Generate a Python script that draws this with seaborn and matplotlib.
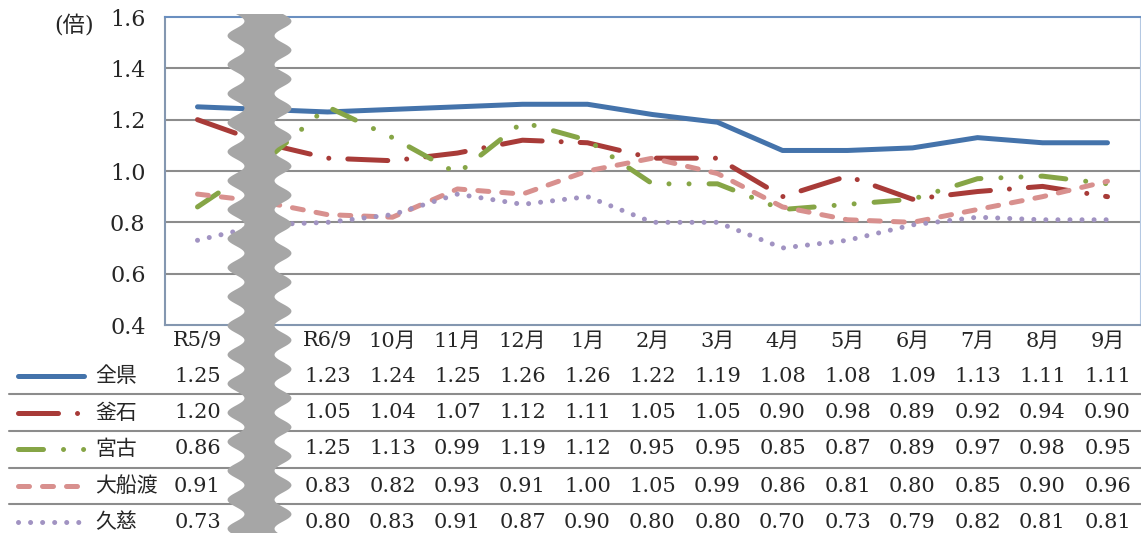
import numpy as np
import pandas as pd
import matplotlib
matplotlib.use('Agg')
import matplotlib.pyplot as plt
import matplotlib.transforms as mtransforms
import seaborn as sns

# categories (index 1 is hidden behind the break mark)
months = ['R5/9', '', 'R6/9', '10月', '11月', '12月', '1月', '2月', '3月',
          '4月', '5月', '6月', '7月', '8月', '9月']
series = ['全県', '釜石', '宮古', '大船渡', '久慈']
zenken = [1.25, 1.24, 1.23, 1.24, 1.25, 1.26, 1.26, 1.22, 1.19, 1.08, 1.08, 1.09, 1.13, 1.11, 1.11]
kamaishi = [1.20, 1.11, 1.05, 1.04, 1.07, 1.12, 1.11, 1.05, 1.05, 0.90, 0.98, 0.89, 0.92, 0.94, 0.90]
miyako = [0.86, 1.03, 1.25, 1.13, 0.99, 1.19, 1.12, 0.95, 0.95, 0.85, 0.87, 0.89, 0.97, 0.98, 0.95]
ofunato = [0.91, 0.88, 0.83, 0.82, 0.93, 0.91, 1.00, 1.05, 0.99, 0.86, 0.81, 0.80, 0.85, 0.90, 0.96]
kuji = [0.73, 0.79, 0.80, 0.83, 0.91, 0.87, 0.90, 0.80, 0.80, 0.70, 0.73, 0.79, 0.82, 0.81, 0.81]
hidden = [1]

colors = {'全県': '#4473ab', '釜石': '#a83b38', '宮古': '#86a546',
          '大船渡': '#d8908e', '久慈': '#a193c2'}
dashes = {'全県': '', '釜石': (8, 3.8, 0.01, 3.8),
          '宮古': (5, 4, 0.01, 4, 0.01, 4),
          '大船渡': (2.2, 2.6), '久慈': (0.01, 2.4)}

values = dict(zip(series, [zenken, kamaishi, miyako, ofunato, kuji]))
df = pd.DataFrame([(i, v, s) for s in series for i, v in enumerate(values[s])],
                  columns=['idx', 'value', 'series'])

sns.set_style('white')
plt.rcParams['font.family'] = ['DejaVu Serif', 'Noto Sans CJK JP']

W, H = 1141, 533
fig = plt.figure(figsize=(W / 100, H / 100), dpi=100)
ax = fig.add_axes([165 / W, 1 - 325 / H, 975 / W, 308 / H])

sns.lineplot(data=df, x='idx', y='value', hue='series', style='series',
             palette=colors, dashes=dashes, linewidth=3.6, legend=False,
             sort=False, ax=ax)
for ln in ax.get_lines():
    ln.set_dash_capstyle('round')
    ln.set_solid_capstyle('round')
    ln.set_solid_joinstyle('round')

ax.set_xlim(-0.5, len(months) - 0.5)
ax.set_ylim(0.4, 1.6)
ax.set_yticks([0.4, 0.6, 0.8, 1.0, 1.2, 1.4, 1.6])
ax.set_yticklabels([f'{v:.1f}' for v in [0.4, 0.6, 0.8, 1.0, 1.2, 1.4, 1.6]], fontsize=16)
ax.set_xticks([])
ax.set_xlabel('')
ax.set_ylabel('')
ax.tick_params(axis='y', length=0, pad=14)
for y in [0.6, 0.8, 1.0, 1.2, 1.4]:
    ax.axhline(y, color='#8c8c8c', lw=1.5, zorder=0)
ax.spines['top'].set_color('#6a8fc0')
ax.spines['top'].set_linewidth(1.5)
ax.spines['right'].set_color('#b4c8e2')
ax.spines['left'].set_color('#8497b0')
ax.spines['left'].set_linewidth(1.5)
ax.spines['bottom'].set_color('#8497b0')
ax.spines['bottom'].set_linewidth(1.5)

# overlay in pixel coordinates for the data table and break mark
ov = fig.add_axes([0, 0, 1, 1], zorder=5)
ov.set_xlim(0, W)
ov.set_ylim(H, 0)
ov.axis('off')
ov.patch.set_alpha(0)
tr = mtransforms.blended_transform_factory(ax.transData, ov.transData)

ov.text(74, 27, '(倍)', fontsize=16, ha='center', va='center')

header_y = 341
row_y = [376, 413, 449, 486, 522]
for i, m in enumerate(months):
    ov.text(i, header_y, m, transform=tr, fontsize=15, ha='center', va='center')
for r, s in enumerate(series):
    y = row_y[r]
    ov.plot([18, 84], [y, y], color=colors[s], lw=3.6,
            dashes=dashes[s] if dashes[s] else (None, None),
            dash_capstyle='round', solid_capstyle='round')
    ov.text(95, y, s, fontsize=15, ha='left', va='center')
    for i, v in enumerate(values[s]):
        if i in hidden:
            continue
        ov.text(i, y, f'{v:.2f}', transform=tr, fontsize=15, ha='center', va='center')
for y in [394, 431, 468, 504]:
    ov.plot([9, W], [y, y], color='#8c8c8c', lw=1.5)

# wavy break band
yy = np.linspace(14, H + 5, 400)
left = 236 + 8.5 * np.sin(2 * np.pi * (yy - 14) / 29)
right = left + 47
ov.fill(np.concatenate([left, right[::-1]]), np.concatenate([yy, yy[::-1]]),
        color='#a6a6a6', lw=0, zorder=10)

fig.savefig('out.png', dpi=100)
